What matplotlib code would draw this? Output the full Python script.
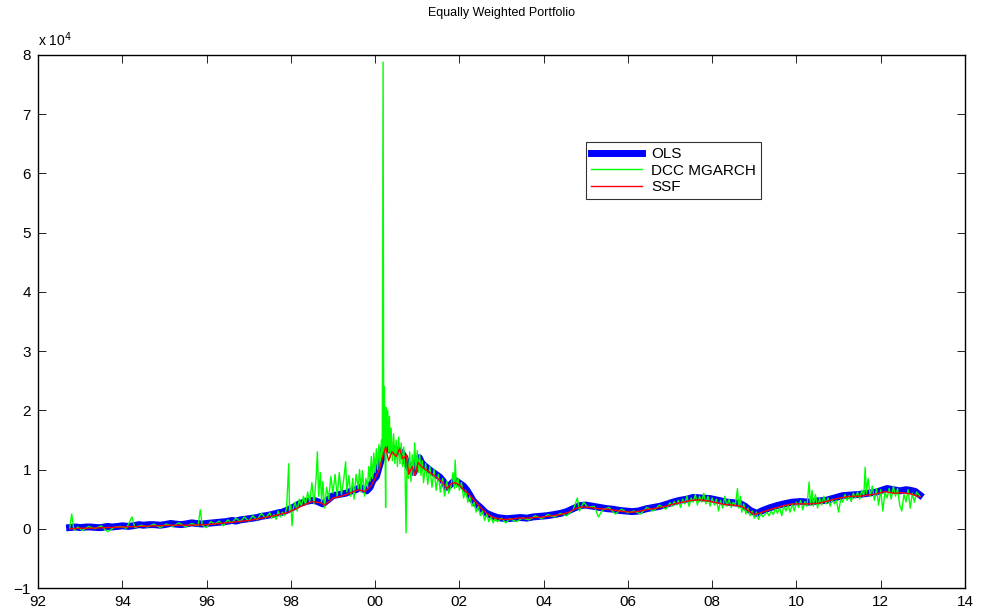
import numpy as np
import matplotlib.pyplot as plt

plt.rcParams['font.family'] = ['Liberation Sans', 'DejaVu Sans']

# dates en annees decimales, valeurs en unites de 10^4
t_ols = [1992.75, 1992.9, 1993.0, 1993.15, 1993.25, 1993.4, 1993.5, 1993.65, 1993.75,
         1993.9, 1994.0, 1994.15, 1994.25, 1994.4, 1994.5, 1994.65, 1994.75, 1994.9,
         1995.0, 1995.15, 1995.25, 1995.4, 1995.5, 1995.65, 1995.75, 1995.9, 1996.0,
         1996.15, 1996.3, 1996.45, 1996.6, 1996.7, 1996.8, 1996.9, 1997.0, 1997.1,
         1997.2, 1997.3, 1997.4, 1997.55, 1997.7, 1997.8, 1997.9, 1998.05, 1998.2,
         1998.35, 1998.5, 1998.6, 1998.76, 1998.9, 1999.0, 1999.15, 1999.3, 1999.45,
         1999.55, 1999.64, 1999.8, 1999.88, 1999.95, 2000.03, 2000.1, 2000.16, 2000.2,
         2000.24, 2000.28, 2000.35, 2000.42, 2000.5, 2000.55, 2000.6, 2000.65, 2000.7,
         2000.76, 2000.83, 2000.92, 2000.97, 2001.0, 2001.05, 2001.1, 2001.15, 2001.2,
         2001.3, 2001.36, 2001.42, 2001.48, 2001.54, 2001.62, 2001.7, 2001.78, 2001.85,
         2001.92, 2002.0, 2002.1, 2002.18, 2002.25, 2002.32, 2002.4, 2002.5, 2002.58,
         2002.65, 2002.78, 2002.9, 2003.0, 2003.13, 2003.3, 2003.44, 2003.6, 2003.75,
         2003.9, 2004.07, 2004.25, 2004.4, 2004.55, 2004.7, 2004.86, 2005.0, 2005.17,
         2005.35, 2005.5, 2005.65, 2005.8, 2005.95, 2006.1, 2006.25, 2006.45, 2006.6,
         2006.76, 2006.9, 2007.07, 2007.23, 2007.4, 2007.55, 2007.75, 2007.95, 2008.15,
         2008.35, 2008.5, 2008.65, 2008.78, 2008.9, 2009.06, 2009.2, 2009.35, 2009.53,
         2009.7, 2009.9, 2010.1, 2010.3, 2010.5, 2010.7, 2010.9, 2011.1, 2011.3,
         2011.5, 2011.7, 2011.9, 2012.15, 2012.3, 2012.45, 2012.6, 2012.7, 2012.82,
         2012.93]
ols = [0.02, 0.03, 0.02, 0.03, 0.03, 0.02, 0.02, 0.04, 0.03,
       0.04, 0.05, 0.04, 0.05, 0.07, 0.06, 0.07, 0.07, 0.06,
       0.07, 0.09, 0.08, 0.07, 0.08, 0.10, 0.09, 0.08, 0.09,
       0.10, 0.11, 0.12, 0.14, 0.13, 0.15, 0.16, 0.17, 0.18,
       0.19, 0.21, 0.22, 0.24, 0.27, 0.28, 0.31, 0.36, 0.42,
       0.46, 0.48, 0.47, 0.42, 0.50, 0.56, 0.58, 0.60, 0.64,
       0.66, 0.70, 0.64, 0.70, 0.82, 0.88, 1.05, 1.20, 1.35,
       1.42, 1.38, 1.33, 1.36, 1.28, 1.33, 1.30, 1.26, 1.21,
       1.10, 0.99, 0.95, 1.05, 1.16, 1.20, 1.12, 1.08, 1.05,
       0.99, 0.96, 0.93, 0.90, 0.87, 0.80, 0.70, 0.74, 0.79,
       0.81, 0.77, 0.72, 0.65, 0.57, 0.48, 0.42, 0.36, 0.30,
       0.26, 0.22, 0.19, 0.18, 0.17, 0.18, 0.19, 0.18, 0.20,
       0.21, 0.22, 0.24, 0.26, 0.29, 0.34, 0.39, 0.40, 0.38,
       0.36, 0.34, 0.33, 0.31, 0.30, 0.29, 0.30, 0.34, 0.36,
       0.38, 0.41, 0.45, 0.48, 0.50, 0.53, 0.52, 0.51, 0.48,
       0.45, 0.44, 0.43, 0.38, 0.31, 0.26, 0.31, 0.35, 0.39,
       0.42, 0.45, 0.46, 0.45, 0.47, 0.48, 0.52, 0.56, 0.57,
       0.58, 0.60, 0.62, 0.68, 0.66, 0.64, 0.66, 0.65, 0.63,
       0.57]

t_ssf = [1992.75, 1993.0, 1993.3, 1993.6, 1994.0, 1994.4, 1994.8, 1995.2, 1995.6,
         1996.0, 1996.3, 1996.6, 1997.0, 1997.3, 1997.6, 1997.9, 1998.1, 1998.3,
         1998.5, 1998.7, 1998.8, 1999.0, 1999.2, 1999.4, 1999.6, 1999.75, 1999.9,
         2000.0, 2000.1, 2000.18, 2000.25, 2000.32, 2000.4, 2000.5, 2000.58, 2000.66,
         2000.74, 2000.8, 2000.88, 2000.95, 2001.02, 2001.1, 2001.2, 2001.3, 2001.4,
         2001.5, 2001.6, 2001.7, 2001.8, 2001.9, 2002.0, 2002.1, 2002.2, 2002.35,
         2002.5, 2002.65, 2002.8, 2003.0, 2003.2, 2003.4, 2003.6, 2003.8, 2004.0,
         2004.2, 2004.4, 2004.6, 2004.75, 2004.9, 2005.1, 2005.3, 2005.5, 2005.7,
         2005.9, 2006.1, 2006.3, 2006.5, 2006.7, 2006.9, 2007.1, 2007.3, 2007.5,
         2007.7, 2007.9, 2008.1, 2008.3, 2008.5, 2008.7, 2008.85, 2009.0, 2009.15,
         2009.3, 2009.5, 2009.7, 2009.9, 2010.1, 2010.3, 2010.5, 2010.7, 2010.9,
         2011.1, 2011.3, 2011.5, 2011.7, 2011.9, 2012.1, 2012.3, 2012.5, 2012.7,
         2012.93]
ssf = [0.00, 0.01, 0.01, 0.02, 0.03, 0.04, 0.05, 0.06, 0.06,
       0.07, 0.09, 0.11, 0.14, 0.18, 0.22, 0.27, 0.33, 0.40,
       0.46, 0.44, 0.40, 0.52, 0.55, 0.60, 0.66, 0.63, 0.72,
       0.85, 1.00, 1.22, 1.38, 1.15, 1.30, 1.22, 1.35, 1.18,
       1.25, 0.92, 1.05, 0.90, 1.12, 1.05, 1.00, 0.95, 0.90,
       0.84, 0.78, 0.68, 0.76, 0.78, 0.74, 0.66, 0.60, 0.48,
       0.36, 0.26, 0.19, 0.16, 0.16, 0.18, 0.18, 0.19, 0.20,
       0.22, 0.24, 0.28, 0.34, 0.37, 0.36, 0.34, 0.33, 0.31,
       0.29, 0.28, 0.30, 0.33, 0.35, 0.38, 0.42, 0.45, 0.48,
       0.49, 0.47, 0.44, 0.41, 0.40, 0.38, 0.31, 0.24, 0.27,
       0.31, 0.35, 0.39, 0.42, 0.42, 0.42, 0.43, 0.46, 0.50,
       0.53, 0.55, 0.55, 0.57, 0.59, 0.63, 0.60, 0.61, 0.59,
       0.54]

t_dcc = [1992.75, 1992.8, 1992.85, 1992.95, 1993.05, 1993.2, 1993.35, 1993.5, 1993.65,
         1993.8, 1993.95, 1994.1, 1994.23, 1994.3, 1994.45, 1994.6, 1994.75, 1994.9,
         1995.05, 1995.2, 1995.35, 1995.5, 1995.65, 1995.8, 1995.85, 1995.9, 1996.0,
         1996.1, 1996.2, 1996.3, 1996.4, 1996.5, 1996.6, 1996.7, 1996.8, 1996.9,
         1997.0, 1997.1, 1997.2, 1997.3, 1997.4, 1997.5, 1997.55, 1997.6, 1997.65,
         1997.7, 1997.75, 1997.8, 1997.85, 1997.9, 1997.95, 1997.97, 1998.0, 1998.03,
         1998.06, 1998.1, 1998.15, 1998.2, 1998.25, 1998.3, 1998.35, 1998.4, 1998.45,
         1998.5, 1998.55, 1998.6, 1998.63, 1998.66, 1998.7, 1998.73, 1998.76, 1998.8,
         1998.85, 1998.9, 1998.95, 1999.0, 1999.05, 1999.1, 1999.15, 1999.2, 1999.25,
         1999.3, 1999.33, 1999.38, 1999.42, 1999.47, 1999.5, 1999.55, 1999.6, 1999.63,
         1999.67, 1999.7, 1999.75, 1999.78, 1999.82, 1999.85, 1999.88, 1999.91, 1999.94,
         1999.97, 2000.0, 2000.03, 2000.06, 2000.09, 2000.12, 2000.15, 2000.17, 2000.19,
         2000.205, 2000.22, 2000.235, 2000.25, 2000.265, 2000.28, 2000.3, 2000.32, 2000.34,
         2000.36, 2000.38, 2000.41, 2000.44, 2000.47, 2000.5, 2000.53, 2000.56, 2000.59,
         2000.62, 2000.65, 2000.68, 2000.71, 2000.735, 2000.76, 2000.79, 2000.82, 2000.85,
         2000.88, 2000.91, 2000.94, 2000.97, 2001.0, 2001.03, 2001.06, 2001.09, 2001.12,
         2001.15, 2001.2, 2001.25, 2001.3, 2001.35, 2001.4, 2001.45, 2001.5, 2001.55,
         2001.6, 2001.65, 2001.7, 2001.75, 2001.8, 2001.85, 2001.88, 2001.9, 2001.93,
         2001.97, 2002.0, 2002.05, 2002.1, 2002.15, 2002.2, 2002.25, 2002.3, 2002.35,
         2002.4, 2002.45, 2002.5, 2002.55, 2002.6, 2002.65, 2002.7, 2002.75, 2002.8,
         2002.85, 2002.9, 2003.0, 2003.1, 2003.2, 2003.35, 2003.5, 2003.65, 2003.8,
         2003.95, 2004.1, 2004.25, 2004.4, 2004.55, 2004.7, 2004.8, 2004.85, 2004.95,
         2005.05, 2005.2, 2005.3, 2005.4, 2005.55, 2005.7, 2005.85, 2006.0, 2006.15,
         2006.3, 2006.45, 2006.6, 2006.75, 2006.9, 2007.0, 2007.05, 2007.1, 2007.15,
         2007.2, 2007.25, 2007.3, 2007.35, 2007.4, 2007.45, 2007.5, 2007.55, 2007.6,
         2007.65, 2007.7, 2007.75, 2007.8, 2007.85, 2007.9, 2007.95, 2008.0, 2008.05,
         2008.1, 2008.15, 2008.2, 2008.25, 2008.3, 2008.35, 2008.4, 2008.45, 2008.5,
         2008.55, 2008.6, 2008.63, 2008.67, 2008.7, 2008.75, 2008.8, 2008.85, 2008.9,
         2008.95, 2009.0, 2009.05, 2009.1, 2009.15, 2009.2, 2009.3, 2009.35, 2009.4,
         2009.45, 2009.5, 2009.55, 2009.6, 2009.65, 2009.7, 2009.75, 2009.8, 2009.85,
         2009.9, 2009.95, 2010.0, 2010.05, 2010.1, 2010.15, 2010.2, 2010.25, 2010.3,
         2010.33, 2010.37, 2010.4, 2010.45, 2010.5, 2010.55, 2010.6, 2010.65, 2010.7,
         2010.75, 2010.8, 2010.85, 2010.9, 2010.95, 2011.0, 2011.05, 2011.1, 2011.15,
         2011.2, 2011.25, 2011.3, 2011.35, 2011.4, 2011.45, 2011.5, 2011.55, 2011.6,
         2011.63, 2011.66, 2011.7, 2011.75, 2011.8, 2011.85, 2011.9, 2011.95, 2012.0,
         2012.05, 2012.1, 2012.15, 2012.2, 2012.25, 2012.3, 2012.35, 2012.4, 2012.45,
         2012.5, 2012.55, 2012.6, 2012.65, 2012.7, 2012.75, 2012.8, 2012.85, 2012.93]
dcc = [0.00, 0.25, -0.02, 0.03, -0.03, 0.04, 0.00, 0.05, -0.05,
       0.02, 0.04, 0.01, 0.20, 0.02, 0.06, 0.03, 0.08, 0.02,
       0.08, 0.04, 0.10, 0.03, 0.09, 0.05, 0.32, 0.06, 0.02,
       0.12, 0.08, 0.13, 0.05, 0.15, 0.10, 0.18, 0.12, 0.20,
       0.13, 0.22, 0.15, 0.26, 0.18, 0.27, 0.18, 0.24, 0.16,
       0.30, 0.20, 0.28, 0.22, 0.35, 1.10, 0.30, 0.40, 0.05,
       0.35, 0.45, 0.30, 0.50, 0.38, 0.55, 0.40, 0.62, 0.45,
       0.78, 0.42, 0.85, 1.30, 0.55, 0.95, 0.45, 0.80, 0.35,
       0.70, 0.50, 0.88, 0.60, 0.92, 0.55, 0.95, 0.58, 0.80,
       1.13, 0.62, 0.90, 0.55, 0.85, 0.50, 0.92, 0.68, 1.00,
       0.62, 0.98, 0.55, 0.85, 0.70, 1.05, 0.80, 1.22, 0.85,
       1.28, 0.95, 1.35, 1.00, 1.42, 1.05, 1.50, 1.20, 7.88,
       1.30, 2.40, 1.50, 0.36, 2.05, 1.40, 2.00, 1.30, 1.90,
       1.20, 1.70, 1.15, 1.60, 1.10, 1.50, 1.05, 1.55, 1.10,
       1.45, 1.05, 1.38, 1.00, -0.07, 1.20, 0.85, 1.30, 0.80,
       1.25, 0.90, 1.45, 1.00, 1.32, 0.95, 1.25, 0.90, 1.15,
       0.78, 1.10, 0.75, 1.05, 0.70, 1.00, 0.65, 0.92, 0.62,
       0.85, 0.55, 0.80, 0.60, 0.72, 0.95, 0.68, 1.16, 0.70,
       0.85, 0.65, 0.78, 0.52, 0.65, 0.45, 0.55, 0.38, 0.45,
       0.28, 0.38, 0.22, 0.30, 0.14, 0.25, 0.12, 0.20, 0.10,
       0.18, 0.12, 0.18, 0.10, 0.17, 0.12, 0.18, 0.15, 0.22,
       0.17, 0.24, 0.20, 0.26, 0.22, 0.32, 0.52, 0.30, 0.45,
       0.36, 0.38, 0.20, 0.32, 0.36, 0.25, 0.33, 0.27, 0.30,
       0.25, 0.36, 0.30, 0.40, 0.33, 0.44, 0.38, 0.46, 0.40,
       0.48, 0.36, 0.50, 0.42, 0.55, 0.38, 0.52, 0.45, 0.58,
       0.40, 0.55, 0.45, 0.60, 0.42, 0.55, 0.38, 0.52, 0.40,
       0.50, 0.30, 0.48, 0.35, 0.55, 0.38, 0.50, 0.36, 0.45,
       0.40, 0.68, 0.35, 0.55, 0.28, 0.42, 0.25, 0.35, 0.22,
       0.30, 0.18, 0.28, 0.16, 0.26, 0.20, 0.28, 0.22, 0.30,
       0.24, 0.34, 0.26, 0.36, 0.22, 0.38, 0.30, 0.40, 0.28,
       0.42, 0.30, 0.45, 0.36, 0.48, 0.32, 0.46, 0.38, 0.79,
       0.40, 0.65, 0.38, 0.58, 0.35, 0.52, 0.40, 0.55, 0.42,
       0.52, 0.38, 0.50, 0.42, 0.48, 0.28, 0.50, 0.45, 0.58,
       0.48, 0.56, 0.46, 0.60, 0.52, 0.62, 0.50, 0.65, 0.55,
       1.04, 0.60, 0.85, 0.55, 0.72, 0.48, 0.68, 0.40, 0.66,
       0.30, 0.62, 0.52, 0.68, 0.50, 0.72, 0.55, 0.68, 0.40,
       0.30, 0.58, 0.45, 0.66, 0.35, 0.60, 0.45, 0.62, 0.55]

xticks = np.arange(1992, 2015, 2)
xticklabels = ['92', '94', '96', '98', '00', '02', '04', '06', '08', '10', '12', '14']

fig = plt.figure(figsize=(9.81, 6.14), dpi=100)
ax = fig.add_axes([38/981, 1 - 588/614, (965-38)/981, (588-55)/614])

ax.plot(t_ols, ols, color='#0000ff', lw=5, label='OLS')
ax.plot(t_dcc, dcc, color='#00ff00', lw=1, label='DCC MGARCH')
ax.plot(t_ssf, ssf, color='#ff0000', lw=1, label='SSF')

ax.set_xlim(1992, 2014)
ax.set_ylim(-1, 8)
ax.set_xticks(xticks)
ax.set_xticklabels(xticklabels)
ax.set_yticks(np.arange(-1, 9))
ax.tick_params(direction='in', length=6, width=0.6, top=True, right=True,
               labelsize=11, pad=5, colors='black')
for s in ax.spines.values():
    s.set_linewidth(1.0)

ax.set_title('Equally Weighted Portfolio', fontsize=9, pad=28)
ax.text(0.0, 1.012, r'x 10$^4$', transform=ax.transAxes, fontsize=10,
        ha='left', va='bottom')

leg = ax.legend(loc='upper left', bbox_to_anchor=(548/927, 1 - 87/533),
                frameon=True, fancybox=False, edgecolor='black', fontsize=11,
                handlelength=3.3, handletextpad=0.6, borderpad=0.35,
                labelspacing=0.15, borderaxespad=0)
leg.get_frame().set_linewidth(0.8)

fig.savefig('out.png', dpi=100)
